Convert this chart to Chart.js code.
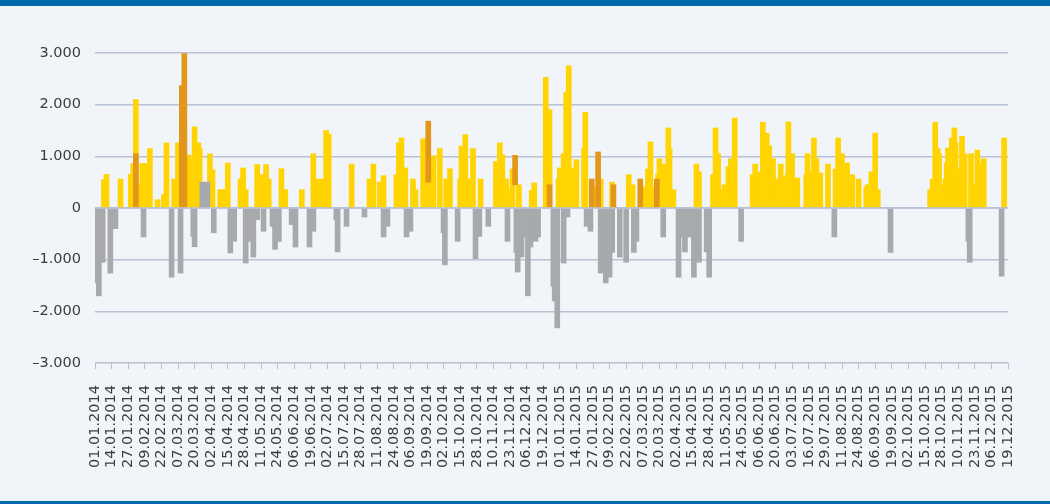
<!DOCTYPE html>
<html>
<head>
  <meta charset="UTF-8">
  <title>Tagessaldo</title>
  <script src="https://cdn.jsdelivr.net/npm/chart.js"></script>
  <style>
    html, body { margin: 0; padding: 0; }
    .frame {
      position: relative;
      width: 1050px;
      height: 504px;
      background: #f1f4f9;
      overflow: hidden;
    }
    .frame::before, .frame::after {
      content: "";
      position: absolute;
      left: 0;
      width: 100%;
      background: #0069aa;
      z-index: 2;
    }
    .frame::before { top: 0; height: 6px; }
    .frame::after { bottom: 0; height: 3px; }
    #chart { position: absolute; left: 0; top: 0; }
  </style>
</head>
<body>
  <div class="frame">
    <canvas id="chart" width="1050" height="504"></canvas>
  </div>

  <script>
    // one tick label every 13 positions on the day axis
    const tickLabels = [
      "01.01.2014", "14.01.2014", "27.01.2014", "09.02.2014", "22.02.2014", "07.03.2014", "20.03.2014",
      "02.04.2014", "15.04.2014", "28.04.2014", "11.05.2014", "24.05.2014", "06.06.2014", "19.06.2014",
      "02.07.2014", "15.07.2014", "28.07.2014", "11.08.2014", "24.08.2014", "06.09.2014", "19.09.2014",
      "02.10.2014", "15.10.2014", "28.10.2014", "10.11.2014", "23.11.2014", "06.12.2014", "19.12.2014",
      "01.01.2015", "14.01.2015", "27.01.2015", "09.02.2015", "22.02.2015", "07.03.2015", "20.03.2015",
      "02.04.2015", "15.04.2015", "28.04.2015", "11.05.2015", "24.05.2015", "06.06.2015", "20.06.2015",
      "03.07.2015", "16.07.2015", "29.07.2015", "11.08.2015", "24.08.2015", "06.09.2015", "19.09.2015",
      "02.10.2015", "15.10.2015", "28.10.2015", "10.11.2015", "23.11.2015", "06.12.2015", "19.12.2015"
    ];
    const tickStep = 13;
    const yTicks = [-3000, -2000, -1000, 0, 1000, 2000, 3000];

    // yellow series (day position, value)
    const yellowDays = [
      7, 9, 20, 28, 30, 32, 34, 37, 39, 43, 49, 54, 56, 62, 65, 73, 74, 78, 81, 82, 90, 92, 98, 100, 104,
      114, 116, 118, 127, 131, 134, 136, 146, 149, 162, 171, 175, 179, 181, 183, 201, 215, 218, 223, 226,
      236, 238, 240, 243, 249, 251, 257, 261, 265, 270, 275, 278, 286, 287, 290, 292, 296, 302, 314, 317,
      319, 322, 325, 327, 332, 342, 344, 353, 354, 356, 363, 364, 367, 369, 371, 373, 375, 377, 383, 384,
      391, 396, 405, 418, 421, 431, 433, 435, 437, 441, 442, 446, 449, 450, 453, 471, 473, 484, 486, 488,
      489, 493, 496, 498, 501, 515, 517, 520, 523, 525, 526, 528, 531, 533, 537, 540, 543, 546, 550, 557,
      558, 562, 563, 565, 568, 574, 580, 582, 585, 589, 590, 593, 598, 604, 605, 608, 611, 613, 654, 656,
      658, 660, 661, 662, 666, 667, 668, 671, 673, 674, 676, 679, 681, 686, 688, 691, 693, 696, 712
    ];
    const yellowVals = [
      550, 650, 560, 650, 860, 2100, 450, 860, 860, 1150, 160, 260, 1260, 560, 1260, 1030, 950, 1570, 1260, 1150, 1050, 740, 355, 355, 870,
      560, 775, 355, 840, 645, 840, 560, 760, 355, 355, 1050, 560, 560, 1500, 1430, 850, 560, 850, 500, 625,
      645, 1260, 1355, 775, 560, 355, 1340, 500, 1010, 1150, 560, 760, 560, 1200, 1420, 560, 1150, 560, 900, 1260,
      1030, 560, 355, 755, 450, 340, 485, 2530, 1915, 1900, 560, 775, 1050, 2240, 2750, 775, 770, 935, 1150, 1850,
      420, 560, 500, 645, 450, 410, 755, 1280, 410, 645, 955, 850, 1550, 1150, 355, 850, 700, 645, 1550, 1050,
      355, 450, 800, 955, 1740, 645, 850, 700, 1660, 1150, 1450, 1200, 955, 560, 850, 625, 1665, 1050, 580, 645,
      1050, 700, 1355, 955, 680, 850, 755, 1355, 1050, 870, 560, 645, 560, 400, 450, 700, 1450, 355, 355, 560,
      1660, 1150, 1050, 450, 560, 870, 1160, 1355, 1550, 1260, 755, 1390, 1050, 1050, 450, 1120, 860, 955, 1355
    ];

    // grey series
    const greyDays = [
      2, 3, 6, 12, 16, 38, 60, 67, 77, 78, 84, 88, 93, 106, 109, 118, 121, 124, 127, 132, 139, 141, 144,
      154, 157, 168, 171, 189, 190, 197, 211, 226, 229, 244, 247, 273, 274, 284, 298, 301, 308, 323, 330,
      331, 334, 336, 339, 341, 343, 345, 347, 359, 360, 362, 367, 370, 385, 388, 396, 400, 403, 405, 411,
      416, 422, 424, 445, 457, 460, 462, 465, 469, 470, 473, 479, 481, 506, 579, 623, 684, 685, 710
    ];
    const greyVals = [
      -1450, -1700, -1050, -1260, -400, -560, -1340, -1260, -550, -750, 500, 500, -480, -870, -645, -1065, -645, -950, -225, -450, -355, -800, -645,
      -320, -755, -755, -450, -225, -850, -355, -175, -560, -355, -560, -450, -480, -1100, -645, -980, -550, -355, -645, -860,
      -1240, -950, -560, -1700, -755, -560, -645, -560, -1515, -1800, -2320, -1065, -175, -355, -450, -1260, -1450, -1340, -860, -950,
      -1050, -860, -645, -560, -1340, -560, -850, -560, -1340, -1030, -1050, -850, -1340, -645, -560, -860, -645, -1050, -1320
    ];

    // orange series, bars start at orangeFrom
    const orangeDays = [32, 68, 70, 261, 329, 356, 389, 394, 406, 427, 440];
    const orangeFrom = [0, 0, 0, 500, 450, 0, 0, 0, 0, 0, 0];
    const orangeVals = [1050, 2370, 2990, 1680, 1020, 450, 560, 1085, 450, 560, 560];

    const gridColor = "#b7c2d5";
    const textColor = "#3c3c3c";

    function fmtThousands(v) {
      if (v === 0) return "0";
      const s = String(Math.abs(v) / 1000) + ".000";
      return (v < 0 ? "\u2013" : "") + s;
    }

    const zeroLine = {
      id: "zeroLine",
      afterDatasetsDraw(chart) {
        const y = chart.scales.y.getPixelForValue(0);
        const area = chart.chartArea;
        const ctx = chart.ctx;
        ctx.save();
        ctx.strokeStyle = gridColor;
        ctx.lineWidth = 1.5;
        ctx.beginPath();
        ctx.moveTo(area.left, y);
        ctx.lineTo(area.right, y);
        ctx.stroke();
        ctx.restore();
      }
    };

    const ctx = document.getElementById("chart").getContext("2d");
    new Chart(ctx, {
      type: "bar",
      data: {
        datasets: [
          {
            label: "orange",
            data: orangeDays.map((d, i) => ({ x: d, y: [orangeFrom[i], orangeVals[i]] })),
            backgroundColor: "#e2961a",
            stack: "all"
          },
          {
            label: "grey",
            data: greyDays.map((d, i) => ({ x: d, y: greyVals[i] })),
            backgroundColor: "#a8a9ad",
            stack: "all"
          },
          {
            label: "yellow",
            data: yellowDays.map((d, i) => ({ x: d, y: yellowVals[i] })),
            backgroundColor: "#ffd400",
            stack: "all"
          }
        ]
      },
      options: {
        responsive: false,
        animation: false,
        events: [],
        layout: { padding: { top: 53, right: 42, left: 0, bottom: 0 } },
        datasets: {
          bar: { barThickness: 5, borderWidth: 0 }
        },
        plugins: {
          legend: { display: false },
          tooltip: { enabled: false }
        },
        scales: {
          x: {
            type: "linear",
            min: 0,
            max: tickStep * (tickLabels.length - 1),
            offset: false,
            border: { display: false },
            grid: {
              offset: false,
              drawOnChartArea: false,
              drawTicks: true,
              tickLength: 6,
              color: gridColor,
              lineWidth: 1
            },
            ticks: {
              stepSize: tickStep,
              maxTicksLimit: 200,
              autoSkip: false,
              minRotation: 90,
              maxRotation: 90,
              padding: 16,
              color: textColor,
              font: { family: "DejaVu Sans", size: 14.5 },
              callback: (v) => tickLabels[Math.round(v / tickStep)]
            },
            afterFit: (scale) => { scale.height = 141; }
          },
          y: {
            stacked: false,
            min: yTicks[0],
            max: yTicks[yTicks.length - 1],
            border: { display: false },
            grid: {
              color: gridColor,
              lineWidth: 1.5,
              drawTicks: false
            },
            ticks: {
              stepSize: 1000,
              padding: 14,
              color: textColor,
              font: { family: "DejaVu Sans", size: 14.5 },
              callback: (v) => fmtThousands(v)
            },
            afterFit: (scale) => { scale.width = 95; }
          }
        }
      },
      plugins: [zeroLine]
    });
  </script>
</body>
</html>
